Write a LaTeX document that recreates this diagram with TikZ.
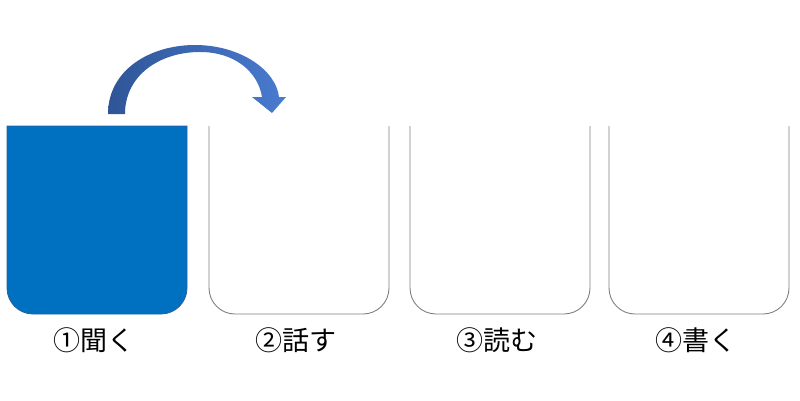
\documentclass[tikz,border=0pt]{standalone}
\usepackage{fontspec}
\newfontfamily\jpfont{Noto Sans CJK JP}
\definecolor{cupblue}{HTML}{0070C0}
\definecolor{cupedge}{HTML}{2A5F9E}
\definecolor{cupgray}{HTML}{808080}
\definecolor{arrdark}{HTML}{2F5597}
\definecolor{arrlight}{HTML}{4A7BD0}
\tikzset{
  cupline/.style={draw=cupgray, line width=0.9pt, rounded corners=26pt},
  cupfill/.style={fill=cupblue, draw=cupedge, line width=0.8pt},
  lbl/.style={font=\jpfont\fontsize{27}{30}\selectfont, inner sep=0pt, anchor=center},
}
\begin{document}
\begin{tikzpicture}[x=1pt,y=1pt]
\useasboundingbox (0,0) rectangle (800,400);
% cups
\draw[cupfill] (7,274) -- (7,112) arc[start angle=180, end angle=270, radius=26pt]
  -- (161,86) arc[start angle=270, end angle=360, radius=26pt] -- (187,274) -- cycle;
\draw[cupline] (209,274) -- (209,86) -- (389,86) -- (389,274);
\draw[cupline] (410,274) -- (410,86) -- (590,86) -- (590,274);
\draw[cupline] (609,274) -- (609,86) -- (789,86) -- (789,274);
% labels
\node[lbl] (l1) at (94,60) {①聞く};
\node[lbl] (l2) at (296,60) {②話す};
\node[lbl] (l3) at (497,60) {③読む};
\node[lbl] (l4) at (696,60) {④書く};
% curved arrow
\shade[left color=arrdark, right color=arrlight]
  (108,286) .. controls (108,330) and (150,355) .. (195,355)
  .. controls (240,355) and (276,330) .. (279,303)
  -- (286,303) -- (272,287) -- (252,303) -- (262,303)
  .. controls (258,328) and (235,348) .. (200,348)
  .. controls (160,348) and (125,325) .. (125,286) -- cycle;
\end{tikzpicture}
\end{document}
